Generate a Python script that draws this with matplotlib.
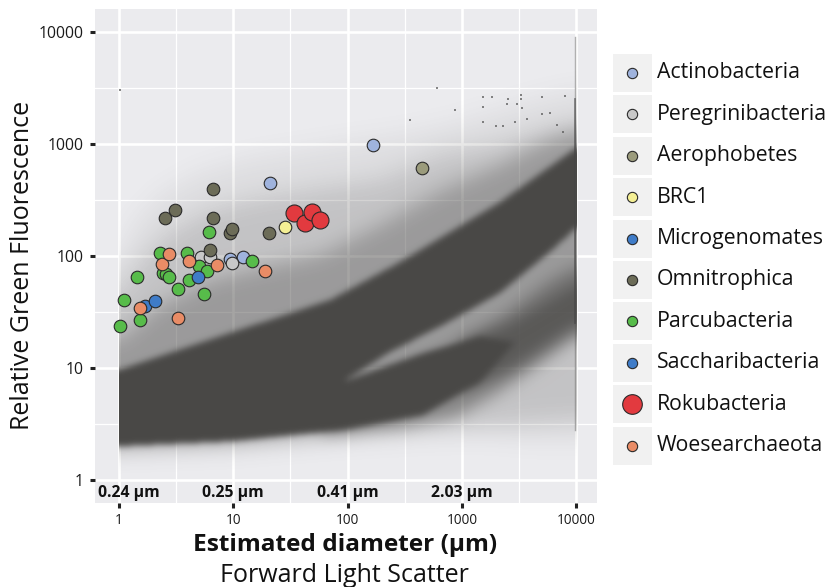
import matplotlib
matplotlib.use("Agg")
import numpy as np
import matplotlib.pyplot as plt
from matplotlib.patches import Rectangle
from matplotlib.path import Path
from matplotlib.colors import LinearSegmentedColormap
from matplotlib.ticker import FixedLocator, NullFormatter

plt.rcParams['font.family'] = ['Open Sans', 'DejaVu Sans']

# ---------------- data: highlighted cells ----------------
actino_x = [166, 20.9, 9.36, 12.2]
actino_y = [980, 452, 93.5, 97.3]
peregr_x = [5.22, 6.25, 9.8]
peregr_y = [97.3, 97.3, 86.1]
aeroph_x = [445]
aeroph_y = [615]
brc1_x = [28.5]
brc1_y = [183]
microg_x = [1.69, 2.07]
microg_y = [35.8, 39.6]
omni_x = [2.53, 3.09, 6.68, 6.61, 6.25, 9.36, 9.68, 20.7]
omni_y = [217, 258, 394, 217, 113, 160, 173, 161]
parcu_x = [1.02, 1.11, 1.54, 1.43, 3.30, 2.28, 2.41, 2.58, 2.72, 3.96, 4.12,
           5.01, 5.93, 5.54, 6.17, 14.7]
parcu_y = [23.7, 40.5, 26.8, 65.3, 50.5, 107, 70.5, 69.1, 65.3, 106, 61.1,
           81.9, 73.5, 45.5, 165, 89.7]
sacch_x = [4.94]
sacch_y = [65.3]
roku_x = [34.2, 42.7, 48.8, 57.4]
roku_y = [240, 196, 247, 210]
woese_x = [1.53, 3.26, 2.36, 2.75, 4.12, 7.16, 18.9]
woese_y = [34.5, 27.9, 84.3, 104, 90.8, 83.2, 73.9]

group_names = ["Actinobacteria", "Peregrinibacteria", "Aerophobetes", "BRC1",
               "Microgenomates", "Omnitrophica", "Parcubacteria",
               "Saccharibacteria", "Rokubacteria", "Woesearchaeota"]
group_colors = ["#9fb3dd", "#c8c8c8", "#9b9b7c", "#f4ef94", "#3f7cc8",
                "#6c6c58", "#57bc4a", "#3f7cc8", "#e23a3f", "#e98c66"]
group_data = [(actino_x, actino_y), (peregr_x, peregr_y), (aeroph_x, aeroph_y),
              (brc1_x, brc1_y), (microg_x, microg_y), (omni_x, omni_y),
              (parcu_x, parcu_y), (sacch_x, sacch_y), (roku_x, roku_y),
              (woese_x, woese_y)]
big_group = "Rokubacteria"

# ---------------- data: outlines of the whole-population density regions ----------------
halo1_x = [1, 1.38, 2.28, 5.11, 14.0, 38.3, 105, 287, 787, 2153, 4823, 10000,
           10000, 3944, 1440, 430, 91.2, 9.94, 1]
halo1_y = [96, 201, 351, 562, 749, 884, 1042, 1202, 1478, 2013, 2573, 3035,
           2.28, 2.28, 2.63, 2.68, 2.47, 2.10, 1.93]
halo2_x = [1, 1.53, 2.79, 6.25, 17.1, 57.4, 192, 643, 2153, 5900, 10000,
           10000, 2153, 430, 91.2, 9.94, 1]
halo2_y = [44.9, 88.3, 164, 258, 330, 405, 480, 800, 1000, 1350, 1500,
           3.43, 3.10, 2.80, 2.57, 2.14, 1.97]
halo3_x = [1, 2.28, 6.25, 17.1, 57.4, 192, 643, 2153, 5900, 10000,
           10000, 2153, 430, 91.2, 9.94, 1]
halo3_y = [17.8, 36.5, 61.1, 78.2, 102, 189, 380, 650, 1100, 1300,
           24, 10, 5.18, 2.80, 2.23, 2.01]
lower_x = [60, 643, 2153, 5900, 10000, 10000, 4823, 2153, 906, 287, 60]
lower_y = [6, 14, 28, 60, 80, 19, 11, 6.2, 3.7, 2.91, 2.6]
lower_in_x = [1000, 2500, 10000, 10000, 3000, 1000]
lower_in_y = [17, 24, 55, 24, 10, 6]
core_x = [1, 9.94, 70.2, 287, 2153, 10000, 10000, 5900, 2153, 683, 235, 91.2,
          457, 1440, 2900, 1440, 457, 91.2, 9.94, 1]
core_y = [9.6, 21, 40.5, 88.3, 303, 921, 178, 109, 46.8, 24.2, 13.9, 7.5,
          13.5, 19, 17, 7.5, 3.8, 2.8, 2.23, 2.01]
region_outlines = [(halo1_x, halo1_y), (halo2_x, halo2_y), (halo3_x, halo3_y),
                   (lower_x, lower_y), (lower_in_x, lower_in_y), (core_x, core_y)]
region_opacity = [0.08, 0.18, 0.33, 0.5, 0.6, 1.0]
region_soft = [12, 12, 10, 8, 7, 3.2]
fsc_range = [1, 10000]

sparse_x = [1531, 1834, 2531, 3289, 3289, 5023, 7980, 3035, 2483, 1531, 3357,
            5023, 5900, 1531, 1987, 2290, 2915, 3713, 6794, 7670, 1.02, 606,
            871, 351]
sparse_y = [2630, 2630, 2523, 2738, 2523, 2630, 2683, 2275, 2275, 2138, 2096,
            1853, 1892, 1571, 1449, 1449, 1571, 1671, 1478, 1280, 3035, 3162,
            2013, 1638]
streak_x = [9800, 9800]
streak_y = [9000, 2.8]
streak_dense_y = [2500, 25]

xticks = [1, 10, 100, 1000, 10000]
xtick_labels = ["1", "10", "100", "1000", "10000"]
yticks = [1, 10, 100, 1000, 10000]
ytick_labels = ["1", "10", "100", "1000", "10000"]
minor_ticks = [10 ** (k + 0.5) for k in range(-1, 5)]
diam_pos = [1.22, 10, 100, 1000]
diam_labels = ["0.24 µm", "0.25 µm", "0.41 µm", "2.03 µm"]

# ---------------- figure ----------------
W, H = 829, 587
XL = (0.617, 15200)
YL = (0.623, 16040)
rect = [95 / W, 1 - 503 / H, (597 - 95) / W, (503 - 9) / H]
fig = plt.figure(figsize=(W / 100, H / 100), dpi=100)

# base axes: panel, grid, ticks
ax = fig.add_axes(rect, zorder=0)
ax.set_xscale('log')
ax.set_yscale('log')
ax.set_xlim(*XL)
ax.set_ylim(*YL)
ax.set_facecolor('#ebebee')
for s in ax.spines.values():
    s.set_visible(False)
ax.set_axisbelow(True)
ax.xaxis.set_major_locator(FixedLocator(xticks))
ax.set_xticklabels(xtick_labels)
ax.yaxis.set_major_locator(FixedLocator(yticks))
ax.set_yticklabels(ytick_labels)
ax.xaxis.set_minor_locator(FixedLocator(minor_ticks))
ax.yaxis.set_minor_locator(FixedLocator(minor_ticks))
ax.xaxis.set_minor_formatter(NullFormatter())
ax.yaxis.set_minor_formatter(NullFormatter())
ax.grid(which='major', color='white', lw=1.9)
ax.grid(which='minor', color='white', lw=0.9)
ax.tick_params(which='minor', length=0)
ax.tick_params(which='major', length=3.5, width=2.2, color='#222222')
ax.tick_params(axis='x', labelsize=9.8, pad=4, labelcolor='#1a1a1a')
ax.tick_params(axis='y', labelsize=11.3, pad=5, labelcolor='#1a1a1a')
for xp, lab in zip(diam_pos, diam_labels):
    ax.text(xp, 0.765, lab, ha='center', va='center', fontsize=11.3,
            fontweight='bold', color='#111111', zorder=4)

# density shading of the whole population, built from the region outlines
nx, ny = 502, 494
lxe = np.linspace(np.log10(XL[0]), np.log10(XL[1]), nx + 1)
lye = np.linspace(np.log10(YL[0]), np.log10(YL[1]), ny + 1)
lxc = 0.5 * (lxe[1:] + lxe[:-1])
lyc = 0.5 * (lye[1:] + lye[:-1])
GX, GY = np.meshgrid(lxc, lyc)
lo, hi = np.log10(fsc_range[0]), np.log10(fsc_range[1])
# outlines are evaluated with FSC clamped to the recorded range so that the
# softening does not fade the hard instrument limits at FSC = 1 and 10000
pts = np.column_stack([np.clip(GX, lo + 1e-4, hi - 1e-4).ravel(), GY.ravel()])


def soften(a, sigma):
    r = int(np.ceil(3 * sigma))
    k = np.exp(-0.5 * (np.arange(-r, r + 1) / sigma) ** 2)
    k /= k.sum()
    a = np.pad(a, r, mode='edge')
    a = np.apply_along_axis(lambda v: np.convolve(v, k, mode='valid'), 1, a)
    a = np.apply_along_axis(lambda v: np.convolve(v, k, mode='valid'), 0, a)
    return a


transp = np.ones((ny, nx))
for (rx, ry), op, sg in zip(region_outlines, region_opacity, region_soft):
    path = Path(np.column_stack([np.log10(rx), np.log10(ry)]))
    m = path.contains_points(pts).reshape(ny, nx).astype(float)
    m = soften(m, sg)
    transp *= (1 - op * m)
dens = 1 - transp
outside = (GX < lo) | (GX > hi + 0.004)
dens[outside] = 0

cloud_cmap = LinearSegmentedColormap.from_list(
    'cloud', [(0.29, 0.286, 0.278, 0.0), (0.29, 0.286, 0.278, 1.0)])
axi = fig.add_axes(rect, zorder=1)
axi.set_xlim(lxe[0], lxe[-1])
axi.set_ylim(lye[0], lye[-1])
axi.axis('off')
axi.patch.set_alpha(0)
axi.imshow(dens, cmap=cloud_cmap, vmin=0, vmax=1, origin='lower',
           extent=[lxe[0], lxe[-1], lye[0], lye[-1]], aspect='auto',
           interpolation='bilinear')

# top axes: individual events and the highlighted cells
axp = fig.add_axes(rect, zorder=2)
axp.set_xscale('log')
axp.set_yscale('log')
axp.set_xlim(*XL)
axp.set_ylim(*YL)
axp.axis('off')
axp.patch.set_alpha(0)
axp.plot(streak_x, streak_y, color='#555555', lw=1.0, alpha=0.45, zorder=1.5)
axp.plot(streak_x, streak_dense_y, color='#444444', lw=1.3, alpha=0.6, zorder=1.5)
axp.scatter(sparse_x, sparse_y, s=4, marker='s', color='#555555', alpha=0.7,
            lw=0, zorder=1.6)
for name, col, (gx, gy) in zip(group_names, group_colors, group_data):
    size = 150 if name == big_group else 82
    axp.scatter(gx, gy, s=size, color=col, edgecolor='#2a2a2a', lw=0.8, zorder=3)

fig.text(23 / W, 1 - 265 / H, "Relative Green Fluorescence", rotation=90,
         ha='center', va='center', fontsize=18, color='#111111')
fig.text(345 / W, 1 - 545 / H, "Estimated diameter (µm)", ha='center',
         va='center', fontsize=17.6, fontweight='bold', color='#111111')
fig.text(344 / W, 1 - 575 / H, "Forward Light Scatter", ha='center',
         va='center', fontsize=18, color='#111111')

# ---------------- legend ----------------
lax = fig.add_axes([600 / W, 1 - 480 / H, 229 / W, 440 / H], zorder=3)
lax.set_xlim(600, 829)
lax.set_ylim(480, 40)
lax.axis('off')
for i, (name, col) in enumerate(zip(group_names, group_colors)):
    yc = 73 + 41.4 * i
    lax.add_patch(Rectangle((613, yc - 19), 39, 38, color='#f1f1f1', lw=0))
    size = 200 if name == big_group else 55
    lax.scatter([632], [yc], s=size, color=col, edgecolor='#2a2a2a', lw=0.8,
                zorder=3, clip_on=False)
    lax.text(657, yc, name, ha='left', va='center', fontsize=15.3,
             color='#111111')

fig.savefig('out.png', dpi=100)
